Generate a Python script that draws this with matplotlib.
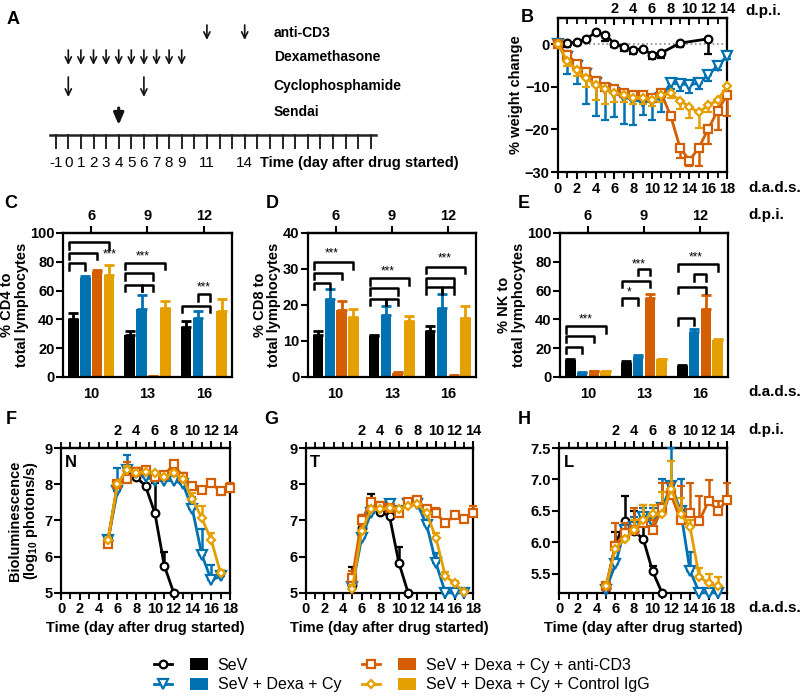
import matplotlib
matplotlib.use('Agg')
import matplotlib.pyplot as plt
import numpy as np
from matplotlib.lines import Line2D
from matplotlib.patches import Patch
from matplotlib.legend_handler import HandlerTuple

plt.rcParams['font.family'] = ['Liberation Sans', 'DejaVu Sans']
plt.rcParams['font.weight'] = 'bold'
plt.rcParams['axes.labelweight'] = 'bold'
plt.rcParams['axes.linewidth'] = 1.6
plt.rcParams['mathtext.fontset'] = 'custom'
plt.rcParams['mathtext.rm'] = 'Liberation Sans:bold'
plt.rcParams['mathtext.bf'] = 'Liberation Sans:bold'
plt.rcParams['mathtext.default'] = 'bf'

# ---------------- data ----------------
GROUPS = ['SeV', 'SeV + Dexa + Cy', 'SeV + Dexa + Cy + anti-CD3', 'SeV + Dexa + Cy + Control IgG']
COLORS = ['#000000', '#0072B2', '#D55E00', '#E69F00']
MARKERS = ['o', 'v', 's', 'D']
MSIZES = [5.5, 6.5, 5.5, 4.5]

# Panel A schedule (days after drug started)
SENDAI_DAY = 4
ANTI_CD3_DAYS = [11, 14]
DEXA_DAYS = [0, 1, 2, 3, 4, 5, 6, 7, 8, 9]
CY_DAYS = [0, 6]
TIMELINE_TICKS = list(range(-1, 25))
TIMELINE_LABELS = [-1, 0, 1, 2, 3, 4, 5, 6, 7, 8, 9, 11, 14]

# Panel B: weight change
B_DAYS_SEV = [0, 1, 2, 3, 4, 5, 6, 7, 8, 9, 10, 11, 13, 16]
B_DAYS = list(range(0, 19))
B_SEV = [0, 0.3, 0.5, 1.3, 2.8, 2.3, 0.2, -0.6, -1.4, -1.0, -2.4, -2.0, 0.3, 1.3]
B_SEV_ERR = [0, 1.0, 0.6, 0.3, 0.3, 1.5, 0.8, 0.9, 0.8, 0.5, 1.0, 1.3, 0.8, 3.5]
B_DC = [0, -3, -5, -7, -9, -10.5, -11.5, -12.3, -13, -13.5, -13.3, -12.5, -9.1, -9.3, -9.5, -9.1, -7.2, -5.0, -2.8]
B_DC_ERR = [0, 3.9, 4.3, 7.0, 7.8, 7.3, 5.5, 6.3, 6.0, 3.0, 4.5, 3.5, 1.4, 1.7, 2.0, 1.4, 1.3, 1.0, 0.7]
B_CD3 = [0, -2.5, -4.5, -6.5, -8.5, -10, -10.5, -11.5, -12, -12, -12.5, -11.5, -16.8, -24.3, -27.3, -24.3, -19.9, -15.6, -11.9]
B_CD3_ERR = [0, 0.8, 0.8, 0.8, 0.8, 0.8, 0.8, 0.8, 0.8, 0.8, 0.8, 0.8, 1.0, 2.5, 1.3, 4.3, 3.6, 4.6, 4.9]
B_IGG = [0, -4, -6, -8, -9.5, -10.5, -11.5, -12, -12.5, -12.5, -13, -12, -11.5, -13.2, -14.7, -16, -14.3, -13.1, -9.9]
B_IGG_ERR = [0, 1, 1.5, 2.0, 3.5, 3.5, 2.0, 1.5, 1.5, 1.5, 1.5, 1.5, 1.0, 2.0, 2.5, 3.6, 1.7, 1.8, 2.0]

# Panels C-E: bar charts at 10, 13, 16 d.a.d.s.
BAR_DAYS = [10, 13, 16]
CD4_SEV = [40, 29, 35];    CD4_SEV_ERR = [4.5, 3, 4]
CD4_DC = [69, 47, 41];     CD4_DC_ERR = [1, 10, 5]
CD4_CD3 = [73, 0.7, 0];    CD4_CD3_ERR = [1.5, 0.3, 0]
CD4_IGG = [71, 48, 46];    CD4_IGG_ERR = [7, 4.5, 8]

CD8_SEV = [11.8, 11.3, 12.7]; CD8_SEV_ERR = [1.0, 0.5, 1.6]
CD8_DC = [21.8, 17.2, 19.2];  CD8_DC_ERR = [2.6, 2.6, 3.8]
CD8_CD3 = [18.7, 1.0, 0.4];   CD8_CD3_ERR = [2.4, 0.3, 0.1]
CD8_IGG = [16.6, 15.5, 16.4]; CD8_IGG_ERR = [2.4, 1.5, 3.4]

NK_SEV = [12, 10, 7.5];   NK_SEV_ERR = [0.5, 0.8, 0.5]
NK_DC = [3, 14, 31];      NK_DC_ERR = [0.5, 1.2, 2]
NK_CD3 = [4, 55, 47];     NK_CD3_ERR = [0.5, 2.5, 10]
NK_IGG = [4, 12.5, 25.5]; NK_IGG_ERR = [0.5, 0.3, 1.2]

# significance brackets: (group index, bar i, bar j, level)
CD4_BRACKETS = [(0, 0, 1, 79), (0, 0, 2, 86.3), (0, 0, 3, 93.5),
                (1, 0, 1, 64), (1, 1, 2, 64), (1, 0, 2, 72), (1, 0, 3, 79.4),
                (2, 0, 2, 49.5), (2, 1, 2, 57.4)]
CD4_STARS = [(0, 0.33, 85, '***'), (1, -0.09, 84, '***'), (2, 0.0, 62, '***')]
CD8_BRACKETS = [(0, 0, 1, 26.2), (0, 0, 2, 29), (0, 0, 3, 31.9),
                (1, 0, 1, 21.7), (1, 1, 2, 21.7), (1, 0, 2, 24.6), (1, 0, 3, 27.4),
                (2, 0, 1, 24.9), (2, 1, 2, 24.9), (2, 0, 2, 27.4), (2, 0, 3, 30.6)]
CD8_STARS = [(0, -0.07, 34.2, '***'), (1, -0.07, 29.4, '***'), (2, -0.05, 32.8, '***')]
NK_BRACKETS = [(0, 0, 1, 21), (0, 0, 2, 28.7), (0, 0, 3, 35.4),
               (1, 0, 1, 54.6), (1, 0, 2, 66.7), (1, 1, 2, 75),
               (2, 0, 1, 40.7), (2, 0, 2, 62.7), (2, 1, 2, 71.3), (2, 0, 3, 78.3)]
NK_STARS = [(0, -0.04, 40.3, '***'), (1, -0.26, 58.8, '*'), (1, -0.09, 78.3, '***'), (2, -0.08, 82.8, '***')]

# Panels F-H: bioluminescence (log10 photons/s)
BL_DAYS_SEV_N = [5, 6, 7, 8, 9, 10, 11, 12]
BL_DAYS_SEV = [5, 6, 7, 8, 9, 10, 11]
BL_DAYS_DC = list(range(5, 18))
BL_DAYS_CD3 = list(range(5, 19))
BL_DAYS_IGG = list(range(5, 18))

N_SEV = [6.45, 7.95, 8.4, 8.2, 7.95, 7.2, 5.75, 5.0]
N_SEV_ERR = [0.08, 0.15, 0.1, 0.05, 0.05, 0.83, 0.38, 0]
N_DC = [6.45, 7.8, 8.4, 8.3, 8.2, 8.1, 8.1, 8.1, 8.0, 7.3, 6.05, 5.35, 5.45]
N_DC_ERR = [0.05, 0.65, 0.4, 0.1, 0.1, 0.05, 0.1, 0.05, 0.05, 0.35, 0.7, 0.42, 0.05]
N_CD3 = [6.35, 8.0, 8.15, 8.35, 8.4, 8.2, 8.25, 8.55, 8.2, 7.94, 7.85, 8.03, 7.8, 7.89]
N_CD3_ERR = [0.05, 0.1, 0.45, 0.1, 0.05, 0.1, 0.05, 0.1, 0.1, 0.05, 0.05, 0.05, 0.05, 0.15]
N_IGG = [6.45, 8.0, 8.4, 8.3, 8.35, 8.3, 8.2, 8.3, 8.15, 7.6, 7.06, 6.46, 5.54]
N_IGG_ERR = [0.05, 0.1, 0.1, 0.1, 0.05, 0.05, 0.05, 0.1, 0.15, 0.15, 0.35, 0.2, 0.1]

T_SEV = [5.21, 6.78, 7.34, 7.24, 7.12, 5.83, 5.0]
T_SEV_ERR = [0.5, 0.37, 0.39, 0.24, 0.19, 0.44, 0]
T_DC = [5.15, 6.5, 7.2, 7.35, 7.45, 7.25, 7.45, 7.45, 6.87, 5.81, 5.0, 5.0, 5.0]
T_DC_ERR = [0.1, 0.2, 0.1, 0.1, 0.05, 0.1, 0.05, 0.05, 0.35, 0.3, 0, 0, 0]
T_CD3 = [5.4, 7.0, 7.5, 7.4, 7.35, 7.2, 7.5, 7.55, 7.3, 7.2, 6.92, 7.15, 7.04, 7.2]
T_CD3_ERR = [0.2, 0.15, 0.1, 0.1, 0.05, 0.1, 0.05, 0.05, 0.05, 0.15, 0.1, 0.05, 0.05, 0.2]
T_IGG = [5.1, 6.7, 7.3, 7.3, 7.35, 7.3, 7.4, 7.45, 7.2, 6.5, 5.46, 5.26, 5.02]
T_IGG_ERR = [0.1, 0.2, 0.1, 0.1, 0.05, 0.05, 0.05, 0.05, 0.1, 0.15, 0.1, 0.05, 0.05]

L_SEV = [5.27, 5.95, 6.34, 6.18, 6.05, 5.54, 5.2]
L_SEV_ERR = [0.05, 0.22, 0.4, 0.32, 0.25, 0.08, 0]
L_DC = [5.25, 5.65, 6.2, 6.25, 6.4, 6.3, 6.55, 6.9, 6.5, 5.55, 5.2, 5.2, 5.2]
L_DC_ERR = [0.05, 0.1, 0.1, 0.15, 0.15, 0.25, 0.45, 0.6, 0.5, 0.3, 0.05, 0.05, 0.05]
L_CD3 = [5.3, 5.95, 6.15, 6.2, 6.3, 6.2, 6.55, 6.75, 6.35, 6.47, 6.34, 6.66, 6.5, 6.68]
L_CD3_ERR = [0.05, 0.35, 0.15, 0.35, 0.3, 0.15, 0.4, 0.2, 0.55, 0.48, 0.4, 0.33, 0.16, 0.26]
L_IGG = [5.3, 5.9, 6.05, 6.2, 6.35, 6.45, 6.45, 6.85, 6.45, 6.25, 5.45, 5.35, 5.3]
L_IGG_ERR = [0.05, 0.1, 0.1, 0.15, 0.25, 0.15, 0.35, 0.45, 0.25, 0.1, 0.15, 0.15, 0.15]

# ---------------- figure ----------------
W, H = 800, 699
fig = plt.figure(figsize=(8.0, 6.99), dpi=100)


def box(l, t, r, b):
    return [l / W, 1 - b / H, (r - l) / W, (b - t) / H]


def ftext(x, y, s, **kw):
    fig.text(x / W, 1 - y / H, s, **kw)


TICKFS = 10.5


def style_ticks(ax):
    ax.tick_params(axis='both', which='major', direction='out', length=5, width=1.5,
                   labelsize=TICKFS, pad=2)
    ax.tick_params(axis='y', which='major', pad=1)
    ax.tick_params(axis='both', which='minor', direction='out', length=4, width=1.3)
    for lab in ax.get_xticklabels() + ax.get_yticklabels():
        lab.set_fontweight('bold')


def add_top_dpi(ax, major, minor, direction='out'):
    sec = ax.secondary_xaxis('top', functions=(lambda d: d - SENDAI_DAY, lambda d: d + SENDAI_DAY))
    sec.set_xticks([m - SENDAI_DAY for m in major])
    sec.set_xticklabels([str(m - SENDAI_DAY) for m in major], fontweight='bold')
    if minor is not None:
        sec.set_xticks([m - SENDAI_DAY for m in minor], minor=True)
    sec.tick_params(axis='x', which='major', direction=direction, length=5, width=1.5,
                    labelsize=TICKFS, pad=2)
    sec.tick_params(axis='x', which='minor', direction=direction, length=4, width=1.3)
    sec.spines['top'].set_linewidth(1.6)
    return sec


def series(ax, x, y, err, k, down=False):
    x = np.asarray(x, float)
    y = np.asarray(y, float)
    e = np.asarray(err, float)
    z = np.zeros_like(e)
    yerr = [e, z] if down else [z, e]
    ax.errorbar(x, y, yerr=yerr, color=COLORS[k], lw=2, elinewidth=1.8,
                capsize=3, capthick=1.8, marker=MARKERS[k], ms=MSIZES[k],
                mfc='white', mec=COLORS[k], mew=1.6, clip_on=False, zorder=3 + k * 0.1)


# ---- Panel A ----
axA = fig.add_axes(box(0, 0, 440, 175))
axA.set_xlim(-68.3 / 12.6, (440 - 68.3) / 12.6)
axA.set_ylim(175, 0)
axA.axis('off')
axA.plot([TIMELINE_TICKS[0] - 0.45, TIMELINE_TICKS[-1] + 0.4], [135, 135], color='#222222', lw=1.8)
for d in TIMELINE_TICKS:
    axA.plot([d, d], [135, 148], color='#222222', lw=1.4)
for d in TIMELINE_LABELS:
    axA.text(d, 163, str(d), ha='center', va='center', fontsize=11, fontweight='normal')
axA.text(15.2, 163, 'Time (day after drug started)', ha='left', va='center', fontsize=10.5, fontweight='bold')

arrow_rows = [(ANTI_CD3_DAYS, 25, 40, 'anti-CD3', 33),
              (DEXA_DAYS, 50, 65, 'Dexamethasone', 57),
              (CY_DAYS, 77, 97, 'Cyclophosphamide', 86)]
for days, yt, yb, name, ty in arrow_rows:
    for d in days:
        axA.annotate('', xy=(d, yb), xytext=(d, yt),
                     arrowprops=dict(arrowstyle='->,head_length=0.45,head_width=0.22', lw=1.2, color='#111111',
                                     shrinkA=0, shrinkB=0))
    axA.text(16.3, ty, name, ha='left', va='center', fontsize=10, fontweight='bold')
axA.annotate('', xy=(SENDAI_DAY, 125), xytext=(SENDAI_DAY, 108),
             arrowprops=dict(arrowstyle='-|>,head_length=0.7,head_width=0.3', lw=2.2, color='#111111',
                             shrinkA=0, shrinkB=0))
axA.text(16.3, 112, 'Sendai', ha='left', va='center', fontsize=10, fontweight='bold')

# ---- Panel B ----
axB = fig.add_axes(box(558, 18, 727, 172))
axB.axhline(0, color='#888888', ls=':', lw=1.2, zorder=1)
series(axB, B_DAYS, B_DC, B_DC_ERR, 1, down=True)
series(axB, B_DAYS, B_IGG, B_IGG_ERR, 3, down=True)
series(axB, B_DAYS, B_CD3, B_CD3_ERR, 2, down=True)
series(axB, B_DAYS_SEV, B_SEV, B_SEV_ERR, 0, down=True)
axB.set_xlim(0, 18)
axB.set_ylim(-30, 6.2)
axB.set_xticks(np.arange(0, 19, 2))
axB.set_xticks(np.arange(0, 19, 1), minor=True)
axB.set_yticks([0, -10, -20, -30])
axB.set_ylabel('% weight change', fontsize=10.5, labelpad=1)
style_ticks(axB)
secB = add_top_dpi(axB, list(range(6, 19, 2)), list(range(0, 19)), direction='in')
secB.tick_params(axis='x', which='major', pad=1.5)

# ---- Panels C-E ----
OFFS = [-0.315, -0.105, 0.105, 0.315]


def bar_panel(ax, means, errs, ylim, yticks, brackets, stars, ylabel):
    gp = np.arange(len(BAR_DAYS))
    for k in range(4):
        x = gp + OFFS[k]
        m = np.asarray(means[k], float)
        e = np.asarray(errs[k], float)
        ax.bar(x, m, width=0.19, color=COLORS[k], zorder=2)
        ok = e > 0
        ax.errorbar(x[ok], m[ok], yerr=[np.zeros(ok.sum()), e[ok]], fmt='none',
                    ecolor=COLORS[k], elinewidth=2, capsize=3.5, capthick=2, zorder=2)
    drop = 0.045 * (ylim[1] - ylim[0])
    for g, i, j, lev in brackets:
        x1 = gp[g] + OFFS[i] - (0.08 if i == 0 else 0)
        x2 = gp[g] + OFFS[j]
        ax.plot([x1, x1, x2, x2], [lev - drop, lev, lev, lev - drop], color='k', lw=1.8, zorder=4)
    for g, dx, lev, s in stars:
        ax.text(gp[g] + dx, lev, s, ha='center', va='center', fontsize=8.5, fontweight='normal')
    ax.set_xlim(-0.5, len(BAR_DAYS) - 0.5)
    ax.set_ylim(*ylim)
    ax.set_yticks(yticks)
    ax.set_xticks(gp)
    ax.set_xticklabels([str(d) for d in BAR_DAYS])
    ax.set_ylabel(ylabel, fontsize=10.5, labelpad=1, linespacing=1.05)
    style_ticks(ax)
    ax.tick_params(axis='x', length=0, pad=7)
    sec = ax.secondary_xaxis('top')
    sec.set_xticks(gp)
    sec.set_xticklabels([str(d - SENDAI_DAY) for d in BAR_DAYS], fontweight='bold')
    sec.tick_params(axis='x', direction='out', length=5, width=1.5, labelsize=TICKFS, pad=2.5)


axC = fig.add_axes(box(63, 233, 232, 377))
bar_panel(axC, [CD4_SEV, CD4_DC, CD4_CD3, CD4_IGG], [CD4_SEV_ERR, CD4_DC_ERR, CD4_CD3_ERR, CD4_IGG_ERR],
          (0, 100), np.arange(0, 101, 20), CD4_BRACKETS, CD4_STARS, '% CD4 to\ntotal lymphocytes')
axD = fig.add_axes(box(307.7, 233, 475.7, 377))
bar_panel(axD, [CD8_SEV, CD8_DC, CD8_CD3, CD8_IGG], [CD8_SEV_ERR, CD8_DC_ERR, CD8_CD3_ERR, CD8_IGG_ERR],
          (0, 40), np.arange(0, 41, 10), CD8_BRACKETS, CD8_STARS, '% CD8 to\ntotal lymphocytes')
axE = fig.add_axes(box(560, 233, 728, 377))
bar_panel(axE, [NK_SEV, NK_DC, NK_CD3, NK_IGG], [NK_SEV_ERR, NK_DC_ERR, NK_CD3_ERR, NK_IGG_ERR],
          (0, 100), np.arange(0, 101, 20), NK_BRACKETS, NK_STARS, '% NK to\ntotal lymphocytes')

# ---- Panels F-H ----


def biolum_panel(ax, sev_days, sev, dc, cd3, igg, ylim, yticks, letter, ylabel=None, fmt=None):
    series(ax, BL_DAYS_DC, dc[0], dc[1], 1)
    series(ax, BL_DAYS_IGG, igg[0], igg[1], 3)
    series(ax, BL_DAYS_CD3, cd3[0], cd3[1], 2)
    series(ax, sev_days, sev[0], sev[1], 0)
    ax.set_xlim(0, 18)
    ax.set_ylim(*ylim)
    ax.set_xticks(np.arange(0, 19, 2))
    ax.set_xticks(np.arange(0, 19, 1), minor=True)
    ax.set_yticks(yticks)
    if fmt:
        ax.set_yticklabels([fmt % v for v in yticks])
    ax.set_xlabel('Time (day after drug started)', fontsize=10.5, labelpad=3)
    if ylabel:
        ax.set_ylabel(ylabel, fontsize=10.5, labelpad=3, linespacing=1.05)
    style_ticks(ax)
    add_top_dpi(ax, list(range(6, 19, 2)), list(range(0, 19)))
    ax.text(0.025, 0.9, letter, transform=ax.transAxes, ha='left', va='center', fontsize=12, fontweight='bold')


axF = fig.add_axes(box(61, 448, 230, 592.7))
biolum_panel(axF, BL_DAYS_SEV_N, (N_SEV, N_SEV_ERR), (N_DC, N_DC_ERR), (N_CD3, N_CD3_ERR), (N_IGG, N_IGG_ERR),
             (5, 9), [5, 6, 7, 8, 9], 'N', ylabel='Bioluminescence\n(log$_{10}$ photons/s)')
axG = fig.add_axes(box(305.7, 448, 473.3, 592.7))
biolum_panel(axG, BL_DAYS_SEV, (T_SEV, T_SEV_ERR), (T_DC, T_DC_ERR), (T_CD3, T_CD3_ERR), (T_IGG, T_IGG_ERR),
             (5, 9), [5, 6, 7, 8, 9], 'T')
axH = fig.add_axes(box(559.3, 448, 727.3, 592.7))
biolum_panel(axH, BL_DAYS_SEV, (L_SEV, L_SEV_ERR), (L_DC, L_DC_ERR), (L_CD3, L_CD3_ERR), (L_IGG, L_IGG_ERR),
             (5.2, 7.5), [5.5, 6.0, 6.5, 7.0, 7.5], 'L', fmt='%.1f')

# ---- panel letters & unit labels ----
for lx, ly, s in [(13, 20, 'A'), (527, 17, 'B'), (11, 204, 'C'), (272, 204, 'D'), (524, 204, 'E'),
                  (11, 420, 'F'), (271, 420, 'G'), (524, 420, 'H')]:
    ftext(lx, ly, s, ha='center', va='center', fontsize=13, fontweight='bold')
for ux, uy, s in [(745, 11, 'd.p.i.'), (748, 188, 'd.a.d.s.'), (748, 215, 'd.p.i.'), (748, 392, 'd.a.d.s.'),
                  (748, 430, 'd.p.i.'), (748, 608, 'd.a.d.s.')]:
    ftext(ux, uy, s, ha='left', va='center', fontsize=11, fontweight='bold')

# ---- legend ----
handles = []
for k in range(4):
    ln = Line2D([], [], color=COLORS[k], lw=2, marker=MARKERS[k], ms=MSIZES[k], mfc='white',
                mec=COLORS[k], mew=1.6)
    handles.append((ln, Patch(facecolor=COLORS[k], edgecolor='none')))
fig.legend(handles, GROUPS, ncol=2, loc='center', bbox_to_anchor=(0.502, 1 - 675 / H),
           handler_map={tuple: HandlerTuple(ndivide=None, pad=1.1)}, handlelength=3.4,
           handleheight=0.8, frameon=False, prop={'weight': 'normal', 'size': 11.5},
           columnspacing=1.3, labelspacing=0.3, handletextpad=0.6, borderpad=0, borderaxespad=0)

fig.savefig('out.png', dpi=100)
